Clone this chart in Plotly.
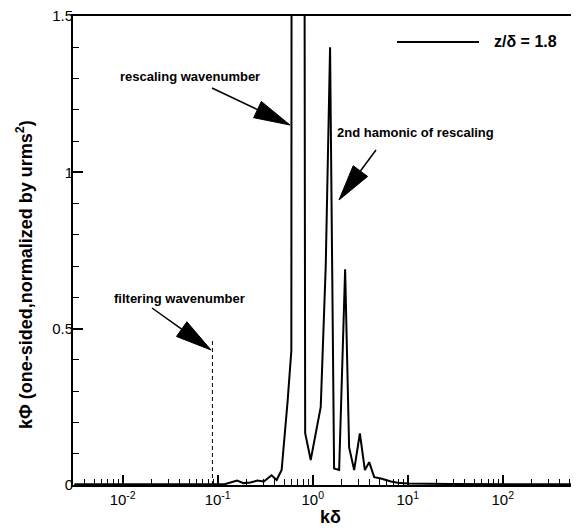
import math
import plotly.graph_objects as go

# ---------------- data ----------------
k_delta = [0.0031, 0.0404, 0.1205, 0.160, 0.187, 0.221, 0.261, 0.306, 0.369, 0.417,
           0.471, 0.545, 0.596, 0.607, 0.794, 0.833, 0.953, 1.215, 1.371, 1.523,
           1.679, 1.897, 2.194, 2.417, 2.731, 3.135, 3.540, 3.933, 4.44, 5.22,
           6.66, 7.84, 10.0, 28.6, 900]
k_phi = [0.002, 0.002, 0.003, 0.014, 0.006, 0.008, 0.014, 0.011, 0.031, 0.016,
         0.048, 0.27, 0.43, 5.0, 5.0, 0.166, 0.08, 0.25, 0.70, 1.40,
         0.053, 0.048, 0.69, 0.12, 0.048, 0.165, 0.048, 0.073, 0.025, 0.021,
         0.011, 0.007, 0.005, 0.003, 0.002]

filter_k = [0.088, 0.088]
filter_phi = [0.0, 0.464]

x_tick_vals = [0.01, 0.1, 1, 10, 100]
x_tick_text = ["10<sup>-2</sup>", "10<sup>-1</sup>", "10<sup>0</sup>", "10<sup>1</sup>", "10<sup>2</sup>"]
y_tick_vals = [0, 0.5, 1, 1.5]
y_tick_text = ["0", "0.5", "1", "1.5"]

legend_label = "z/δ = 1.8"

# ---------------- layout constants ----------------
W, H = 579, 529
OFF = 8                      # page body margin offset in the screenshot
L, R, T, B = 65, 0, 8, 52
PW, PH = W - L - R, H - T - B
FONT = "Liberation Sans, Arial, sans-serif"


def px2paper(px, py):
    # screenshot pixel -> paper coordinates
    fx, fy = px - OFF, py - OFF
    return (fx - L) / PW, (H - B - fy) / PH


fig = go.Figure()
fig.add_trace(go.Scatter(x=k_delta, y=k_phi, mode="lines",
                         line=dict(color="black", width=2), showlegend=False))
fig.add_trace(go.Scatter(x=filter_k, y=filter_phi, mode="lines",
                         line=dict(color="black", width=1, dash="4px,3px"), showlegend=False))

minor_x = [m * 10 ** e for e in range(-3, 3) for m in range(2, 10)]

fig.update_xaxes(type="log", range=[-2.523, 2.887],
                 tickmode="array", tickvals=x_tick_vals, ticktext=x_tick_text,
                 ticks="inside", ticklen=10, tickwidth=2, tickcolor="black",
                 minor=dict(tickmode="array", tickvals=minor_x, ticks="inside",
                            ticklen=6, tickwidth=1, tickcolor="black"),
                 showline=True, linecolor="black", linewidth=2, mirror=True,
                 showgrid=False, zeroline=False, ticklabeloverflow="allow",
                 tickfont=dict(family=FONT, size=15, color="black"))
fig.update_yaxes(range=[0, 1.5],
                 tickmode="array", tickvals=y_tick_vals, ticktext=y_tick_text,
                 ticks="inside", ticklen=10, tickwidth=2, tickcolor="black",
                 minor=dict(dtick=0.1, ticks="inside", ticklen=6, tickwidth=1,
                            tickcolor="black"),
                 showline=True, linecolor="black", linewidth=2,
                 showgrid=False, zeroline=False, ticklabelstandoff=-5,
                 ticklabeloverflow="allow",
                 tickfont=dict(family=FONT, size=15, color="black"))

shapes = []
annotations = []

# legend (manual)
x0, y0 = px2paper(397, 42)
x1, _ = px2paper(479, 42)
shapes.append(dict(type="line", xref="paper", yref="paper", x0=x0, y0=y0, x1=x1, y1=y0,
                   line=dict(color="black", width=2)))
tx, ty = px2paper(492, 42)
annotations.append(dict(xref="paper", yref="paper", x=tx, y=ty, xanchor="left", yanchor="middle",
                        text="<b>" + legend_label + "</b>", showarrow=False,
                        font=dict(family=FONT, size=16, color="black")))


def arrow(text, text_px, tail_px, tip_px, head_len=36, head_half=9):
    ax_, ay_ = px2paper(*text_px)
    annotations.append(dict(xref="paper", yref="paper", x=ax_, y=ay_, xanchor="center",
                            yanchor="middle", text="<b>" + text + "</b>", showarrow=False,
                            font=dict(family=FONT, size=13, color="black")))
    sx, sy = tail_px
    tx_, ty_ = tip_px
    dx, dy = tx_ - sx, ty_ - sy
    n = math.hypot(dx, dy)
    ux, uy = dx / n, dy / n
    bx, by = tx_ - ux * head_len, ty_ - uy * head_len
    nx, ny = -uy, ux
    p1 = px2paper(sx, sy)
    p2 = px2paper(bx, by)
    shapes.append(dict(type="line", xref="paper", yref="paper", x0=p1[0], y0=p1[1],
                       x1=p2[0], y1=p2[1], line=dict(color="black", width=1.5)))
    a = px2paper(tx_, ty_)
    b = px2paper(bx + nx * head_half, by + ny * head_half)
    c = px2paper(bx - nx * head_half, by - ny * head_half)
    path = f"M {a[0]},{a[1]} L {b[0]},{b[1]} L {c[0]},{c[1]} Z"
    shapes.append(dict(type="path", xref="paper", yref="paper", path=path,
                       fillcolor="black", line=dict(color="black", width=1)))


arrow("rescaling wavenumber", (190, 76), (212, 88), (290, 125))
arrow("2nd hamonic of rescaling", (415, 132), (376, 150), (339, 200))
arrow("filtering wavenumber", (179, 298), (152, 308), (211, 350))

# axis titles
xt, yt = px2paper(330, 517)
annotations.append(dict(xref="paper", yref="paper", x=xt, y=yt, xanchor="center", yanchor="middle",
                        text="<b>kδ</b>", showarrow=False,
                        font=dict(family=FONT, size=18, color="black")))
xt, yt = px2paper(24, 275)
annotations.append(dict(xref="paper", yref="paper", x=xt, y=yt, xanchor="center", yanchor="middle",
                        text="<b>kΦ (one-sided,normalized by urms<sup>2</sup>)</b>",
                        textangle=-90, showarrow=False,
                        font=dict(family=FONT, size=18, color="black")))

fig.update_layout(width=W, height=H, margin=dict(l=L, r=R, t=T, b=B, pad=0),
                  paper_bgcolor="white", plot_bgcolor="white",
                  shapes=shapes, annotations=annotations, showlegend=False)

fig.write_html("out.html")
